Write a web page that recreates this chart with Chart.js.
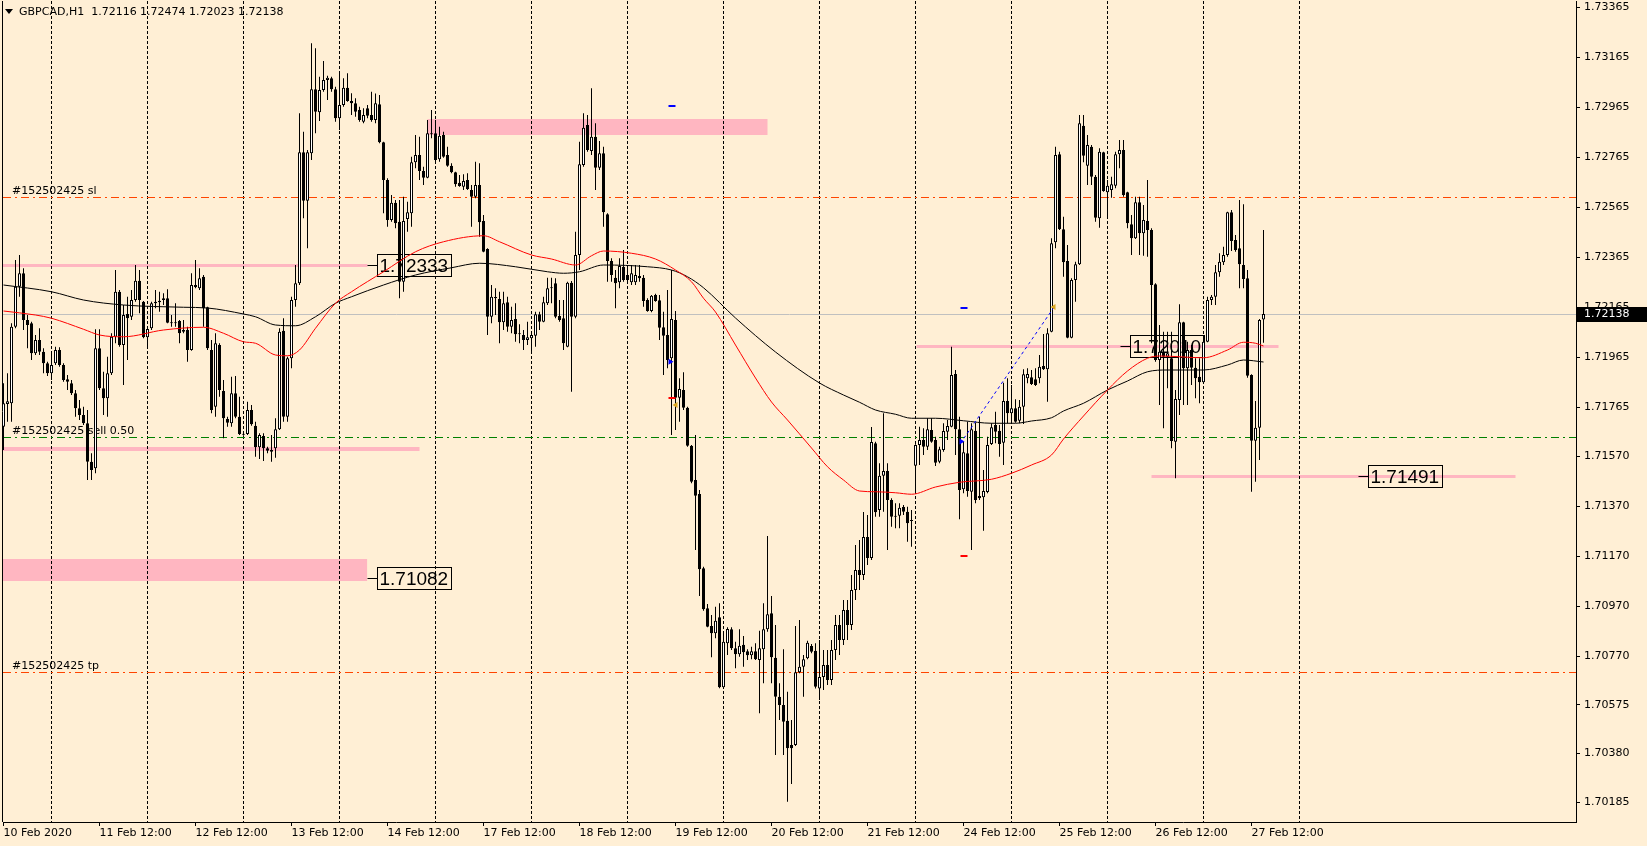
<!DOCTYPE html>
<html>
<head>
<meta charset="utf-8">
<title>GBPCAD,H1</title>
<script src="https://cdn.jsdelivr.net/npm/chart.js@4.4.1/dist/chart.umd.min.js"></script>
<style>
  html, body { margin: 0; padding: 0; background: #FFEFD5; overflow: hidden; }
  canvas { display: block; }
</style>
</head>
<body>
<canvas id="chart" width="1647" height="846"></canvas>
<script>
const symbolTitle = "GBPCAD,H1";

// hourly candles, bar 0 = 10 Feb 12:00
const candleOpen = [
  1.71687, 1.71778, 1.71781, 1.72087, 1.72247, 1.72301, 1.72114, 1.72101, 1.71981, 1.72034,
  1.71987, 1.71941, 1.71901, 1.71941, 1.71994, 1.71934, 1.71877, 1.71861, 1.71821, 1.71761,
  1.71734, 1.71701, 1.71547, 1.71521, 1.72001, 1.71841, 1.71801, 1.71901, 1.72047, 1.72227,
  1.72014, 1.72138, 1.72127, 1.72194, 1.72271, 1.72187, 1.72045, 1.72081, 1.72181, 1.72185,
  1.72194, 1.72201, 1.72103, 1.72103, 1.72110, 1.72074, 1.72074, 1.71994, 1.72254, 1.72241,
  1.72287, 1.72165, 1.71994, 1.71767, 1.72014, 1.71830, 1.71718, 1.71701, 1.71821, 1.71727,
  1.71658, 1.71658, 1.71754, 1.71691, 1.71605, 1.71650, 1.71601, 1.71594, 1.71601, 1.71677,
  1.72071, 1.71727, 1.71961, 1.72194, 1.72261, 1.72785, 1.72591, 1.72781, 1.73037, 1.72945,
  1.73034, 1.73074, 1.73081, 1.73037, 1.72921, 1.72974, 1.73043, 1.72990, 1.72981, 1.72954,
  1.72907, 1.72961, 1.72934, 1.72914, 1.72977, 1.72825, 1.72674, 1.72514, 1.72583, 1.72507,
  1.72267, 1.72518, 1.72541, 1.72745, 1.72774, 1.72710, 1.72683, 1.72861, 1.72861, 1.72757,
  1.72854, 1.72774, 1.72731, 1.72705, 1.72663, 1.72647, 1.72674, 1.72634, 1.72607, 1.72654,
  1.72510, 1.72398, 1.72127, 1.72206, 1.72198, 1.72105, 1.72185, 1.72087, 1.72118, 1.72061,
  1.72054, 1.72034, 1.72041, 1.72051, 1.72137, 1.72107, 1.72181, 1.72241, 1.72261, 1.72130,
  1.72121, 1.72007, 1.72263, 1.72127, 1.72374, 1.72734, 1.72894, 1.72790, 1.72847, 1.72723,
  1.72781, 1.72537, 1.72350, 1.72283, 1.72265, 1.72327, 1.72294, 1.72265, 1.72265, 1.72290,
  1.72283, 1.72194, 1.72150, 1.72214, 1.72193, 1.72085, 1.72054, 1.71961, 1.72114, 1.71803,
  1.71834, 1.71763, 1.71611, 1.71474, 1.71418, 1.71121, 1.70961, 1.70890, 1.70861, 1.70925,
  1.70645, 1.70821, 1.70877, 1.70801, 1.70777, 1.70815, 1.70789, 1.70773, 1.70789, 1.70754,
  1.70797, 1.70877, 1.70941, 1.70763, 1.70607, 1.70574, 1.70511, 1.70414, 1.70414, 1.70705,
  1.70727, 1.70761, 1.70810, 1.70791, 1.70640, 1.70686, 1.70734, 1.70674, 1.70794, 1.70894,
  1.70834, 1.70954, 1.70894, 1.71034, 1.71114, 1.71094, 1.71246, 1.71162, 1.71621, 1.71354,
  1.71491, 1.71510, 1.71394, 1.71331, 1.71331, 1.71366, 1.71347, 1.71314, 1.71531, 1.71614,
  1.71634, 1.71607, 1.71674, 1.71634, 1.71547, 1.71594, 1.71667, 1.71687, 1.71898, 1.71677,
  1.71437, 1.71581, 1.71427, 1.71671, 1.71410, 1.71405, 1.71426, 1.71618, 1.71694, 1.71671,
  1.71623, 1.71790, 1.71741, 1.71761, 1.71711, 1.71767, 1.71881, 1.71885, 1.71877, 1.71881,
  1.71930, 1.71917, 1.72067, 1.72425, 1.72777, 1.72477, 1.72350, 1.72043, 1.72274, 1.72337,
  1.72891, 1.72731, 1.72807, 1.72687, 1.72521, 1.72785, 1.72625, 1.72634, 1.72651, 1.72777,
  1.72794, 1.72625, 1.72497, 1.72441, 1.72585, 1.72461, 1.72510, 1.72474, 1.72257, 1.71954,
  1.71987, 1.71967, 1.71961, 1.71627, 1.71794, 1.72105, 1.71921, 1.71994, 1.71923, 1.71887,
  1.71865, 1.72027, 1.72194, 1.72207, 1.72305, 1.72345, 1.72374, 1.72545, 1.72434, 1.72401,
  1.72334, 1.72281, 1.71894, 1.71631, 1.71683, 1.72116
];
const candleHigh = [
  1.71861, 1.71901, 1.72101, 1.72354, 1.72374, 1.72321, 1.72134, 1.72107, 1.72054, 1.72081,
  1.72001, 1.71947, 1.71981, 1.72007, 1.72005, 1.71941, 1.71894, 1.71874, 1.71834, 1.71794,
  1.71767, 1.71754, 1.71581, 1.72077, 1.72077, 1.71907, 1.71967, 1.72061, 1.72314, 1.72234,
  1.72174, 1.72207, 1.72234, 1.72334, 1.72314, 1.72190, 1.72087, 1.72187, 1.72234, 1.72227,
  1.72221, 1.72237, 1.72134, 1.72181, 1.72114, 1.72114, 1.72087, 1.72301, 1.72354, 1.72321,
  1.72294, 1.72167, 1.72034, 1.72061, 1.72021, 1.71874, 1.71727, 1.71887, 1.71890, 1.71807,
  1.71670, 1.71787, 1.71774, 1.71707, 1.71661, 1.71661, 1.71607, 1.71654, 1.71721, 1.72081,
  1.72121, 1.71967, 1.72207, 1.72334, 1.72941, 1.72867, 1.72794, 1.73221, 1.73201, 1.73087,
  1.73150, 1.73091, 1.73087, 1.73047, 1.73101, 1.73081, 1.73101, 1.73021, 1.73001, 1.72967,
  1.72961, 1.72974, 1.73027, 1.73020, 1.73014, 1.72827, 1.72681, 1.72614, 1.72594, 1.72594,
  1.72607, 1.72587, 1.72767, 1.72854, 1.72847, 1.72727, 1.72914, 1.72954, 1.72914, 1.72887,
  1.72867, 1.72807, 1.72741, 1.72707, 1.72694, 1.72697, 1.72701, 1.72654, 1.72747, 1.72741,
  1.72534, 1.72401, 1.72254, 1.72241, 1.72227, 1.72227, 1.72207, 1.72167, 1.72181, 1.72097,
  1.72074, 1.72107, 1.72067, 1.72147, 1.72147, 1.72207, 1.72283, 1.72283, 1.72281, 1.72194,
  1.72194, 1.72267, 1.72270, 1.72467, 1.72827, 1.72941, 1.72934, 1.73041, 1.72901, 1.72830,
  1.72807, 1.72541, 1.72361, 1.72314, 1.72361, 1.72394, 1.72334, 1.72334, 1.72334, 1.72334,
  1.72294, 1.72201, 1.72214, 1.72219, 1.72214, 1.72147, 1.72234, 1.72314, 1.72150, 1.71881,
  1.71905, 1.71767, 1.71614, 1.71654, 1.71434, 1.71127, 1.70978, 1.70934, 1.70967, 1.70981,
  1.70861, 1.70885, 1.70885, 1.70827, 1.70877, 1.70850, 1.70797, 1.70807, 1.70821, 1.70871,
  1.70981, 1.71250, 1.71010, 1.70894, 1.70661, 1.70797, 1.70627, 1.70514, 1.70890, 1.70914,
  1.70774, 1.70831, 1.70818, 1.70821, 1.70834, 1.70794, 1.70794, 1.70834, 1.70934, 1.70934,
  1.70994, 1.70994, 1.71094, 1.71214, 1.71234, 1.71346, 1.71334, 1.71686, 1.71627, 1.71541,
  1.71741, 1.71541, 1.71401, 1.71381, 1.71381, 1.71374, 1.71367, 1.71354, 1.71617, 1.71687,
  1.71681, 1.71721, 1.71721, 1.71647, 1.71607, 1.71701, 1.71714, 1.72007, 1.71914, 1.71727,
  1.71627, 1.71707, 1.71701, 1.71703, 1.71727, 1.71514, 1.71647, 1.71701, 1.71747, 1.71694,
  1.71863, 1.71881, 1.71854, 1.71797, 1.71794, 1.71917, 1.71921, 1.71914, 1.71921, 1.71974,
  1.72058, 1.72081, 1.72441, 1.72807, 1.72787, 1.72527, 1.72414, 1.72281, 1.72347, 1.72934,
  1.72934, 1.72854, 1.72814, 1.72694, 1.72801, 1.72787, 1.72674, 1.72687, 1.72787, 1.72834,
  1.72834, 1.72627, 1.72534, 1.72607, 1.72607, 1.72574, 1.72674, 1.72481, 1.72261, 1.72094,
  1.72067, 1.72067, 1.72067, 1.71834, 1.72177, 1.72107, 1.72027, 1.72014, 1.71961, 1.71961,
  1.72041, 1.72207, 1.72214, 1.72334, 1.72381, 1.72407, 1.72547, 1.72554, 1.72454, 1.72594,
  1.72577, 1.72314, 1.71897, 1.71790, 1.72118, 1.72474
];
const candleLow = [
  1.71594, 1.71707, 1.71707, 1.72081, 1.72207, 1.72074, 1.72001, 1.71954, 1.71974, 1.71974,
  1.71901, 1.71890, 1.71874, 1.71934, 1.71927, 1.71867, 1.71834, 1.71814, 1.71727, 1.71714,
  1.71694, 1.71474, 1.71474, 1.71501, 1.71834, 1.71734, 1.71727, 1.71894, 1.72021, 1.72007,
  1.71854, 1.71954, 1.72114, 1.72187, 1.72141, 1.72041, 1.72007, 1.72074, 1.72161, 1.72147,
  1.72174, 1.72101, 1.72087, 1.72087, 1.72021, 1.72061, 1.71947, 1.71991, 1.72241, 1.72234,
  1.72087, 1.71994, 1.71741, 1.71727, 1.71807, 1.71641, 1.71687, 1.71687, 1.71721, 1.71654,
  1.71651, 1.71654, 1.71691, 1.71567, 1.71558, 1.71550, 1.71581, 1.71547, 1.71563, 1.71674,
  1.71707, 1.71707, 1.71921, 1.72167, 1.72254, 1.72521, 1.72401, 1.72754, 1.72861, 1.72910,
  1.73027, 1.72994, 1.73027, 1.72907, 1.72874, 1.72967, 1.72987, 1.72934, 1.72927, 1.72907,
  1.72901, 1.72921, 1.72907, 1.72901, 1.72821, 1.72541, 1.72487, 1.72507, 1.72481, 1.72201,
  1.72227, 1.72467, 1.72487, 1.72721, 1.72674, 1.72654, 1.72681, 1.72841, 1.72747, 1.72747,
  1.72763, 1.72727, 1.72701, 1.72647, 1.72647, 1.72634, 1.72634, 1.72487, 1.72601, 1.72447,
  1.72385, 1.72054, 1.72101, 1.72134, 1.72021, 1.72074, 1.72067, 1.72061, 1.72027, 1.72021,
  1.71994, 1.72014, 1.71987, 1.72007, 1.72074, 1.72105, 1.72174, 1.72181, 1.72121, 1.72107,
  1.71994, 1.72005, 1.71827, 1.72121, 1.72314, 1.72727, 1.72787, 1.72774, 1.72634, 1.72714,
  1.72487, 1.72267, 1.72267, 1.72161, 1.72241, 1.72267, 1.72267, 1.72254, 1.72254, 1.72267,
  1.72167, 1.72147, 1.72145, 1.72187, 1.72034, 1.71894, 1.71921, 1.71654, 1.71674, 1.71707,
  1.71754, 1.71607, 1.71461, 1.71194, 1.71010, 1.70951, 1.70885, 1.70765, 1.70841, 1.70641,
  1.70641, 1.70774, 1.70794, 1.70721, 1.70767, 1.70727, 1.70754, 1.70757, 1.70754, 1.70541,
  1.70661, 1.70867, 1.70661, 1.70374, 1.70514, 1.70374, 1.70187, 1.70258, 1.70410, 1.70701,
  1.70607, 1.70757, 1.70781, 1.70640, 1.70594, 1.70634, 1.70654, 1.70654, 1.70754, 1.70774,
  1.70814, 1.70834, 1.70874, 1.70994, 1.71034, 1.71074, 1.71134, 1.71154, 1.71327, 1.71327,
  1.71347, 1.71194, 1.71287, 1.71281, 1.71281, 1.71334, 1.71227, 1.71207, 1.71427, 1.71534,
  1.71574, 1.71594, 1.71623, 1.71530, 1.71541, 1.71587, 1.71634, 1.71685, 1.71574, 1.71317,
  1.71421, 1.71407, 1.71194, 1.71381, 1.71394, 1.71271, 1.71421, 1.71614, 1.71621, 1.71567,
  1.71534, 1.71701, 1.71701, 1.71703, 1.71701, 1.71698, 1.71861, 1.71854, 1.71850, 1.71861,
  1.71914, 1.71787, 1.72065, 1.72401, 1.72474, 1.72287, 1.72041, 1.72041, 1.72187, 1.72334,
  1.72745, 1.72654, 1.72654, 1.72507, 1.72483, 1.72627, 1.72521, 1.72603, 1.72641, 1.72721,
  1.72607, 1.72481, 1.72374, 1.72438, 1.72374, 1.72371, 1.72367, 1.72021, 1.71947, 1.71774,
  1.71681, 1.71841, 1.71601, 1.71481, 1.71734, 1.71774, 1.71774, 1.71854, 1.71801, 1.71781,
  1.71861, 1.72025, 1.72174, 1.72174, 1.72287, 1.72334, 1.72367, 1.72390, 1.72387, 1.72241,
  1.72241, 1.71883, 1.71427, 1.71467, 1.71554, 1.72023
];
const candleClose = [
  1.71781, 1.71789, 1.72087, 1.72247, 1.72301, 1.72114, 1.72094, 1.71981, 1.72034, 1.71987,
  1.71941, 1.71901, 1.71934, 1.71994, 1.71934, 1.71874, 1.71867, 1.71821, 1.71761, 1.71734,
  1.71701, 1.71547, 1.71514, 1.72001, 1.71841, 1.71801, 1.71901, 1.72047, 1.72227, 1.72014,
  1.72134, 1.72121, 1.72194, 1.72271, 1.72194, 1.72045, 1.72078, 1.72181, 1.72187, 1.72191,
  1.72201, 1.72103, 1.72101, 1.72101, 1.72061, 1.72067, 1.71994, 1.72254, 1.72245, 1.72281,
  1.72161, 1.72001, 1.71754, 1.72021, 1.71834, 1.71721, 1.71703, 1.71821, 1.71727, 1.71658,
  1.71655, 1.71754, 1.71697, 1.71605, 1.71654, 1.71601, 1.71591, 1.71587, 1.71677, 1.72067,
  1.71727, 1.71961, 1.72194, 1.72261, 1.72785, 1.72591, 1.72785, 1.73037, 1.72947, 1.73034,
  1.73074, 1.73083, 1.73037, 1.72921, 1.72974, 1.73043, 1.72990, 1.72981, 1.72947, 1.72914,
  1.72934, 1.72931, 1.72914, 1.72981, 1.72825, 1.72674, 1.72514, 1.72583, 1.72501, 1.72267,
  1.72510, 1.72545, 1.72745, 1.72774, 1.72710, 1.72683, 1.72861, 1.72857, 1.72754, 1.72851,
  1.72767, 1.72731, 1.72705, 1.72657, 1.72650, 1.72670, 1.72638, 1.72607, 1.72654, 1.72505,
  1.72387, 1.72127, 1.72207, 1.72201, 1.72105, 1.72181, 1.72087, 1.72114, 1.72057, 1.72057,
  1.72034, 1.72045, 1.72054, 1.72137, 1.72107, 1.72185, 1.72241, 1.72243, 1.72127, 1.72114,
  1.72021, 1.72263, 1.72127, 1.72374, 1.72737, 1.72883, 1.72794, 1.72847, 1.72723, 1.72781,
  1.72545, 1.72350, 1.72294, 1.72261, 1.72330, 1.72274, 1.72274, 1.72301, 1.72294, 1.72281,
  1.72190, 1.72150, 1.72211, 1.72190, 1.72083, 1.72051, 1.71954, 1.72118, 1.71803, 1.71838,
  1.71763, 1.71611, 1.71467, 1.71411, 1.71117, 1.70957, 1.70887, 1.70861, 1.70911, 1.70645,
  1.70827, 1.70878, 1.70801, 1.70777, 1.70811, 1.70785, 1.70773, 1.70789, 1.70757, 1.70801,
  1.70877, 1.70937, 1.70765, 1.70607, 1.70574, 1.70507, 1.70401, 1.70401, 1.70705, 1.70727,
  1.70757, 1.70823, 1.70787, 1.70647, 1.70686, 1.70734, 1.70674, 1.70794, 1.70894, 1.70834,
  1.70954, 1.70894, 1.71034, 1.71114, 1.71094, 1.71246, 1.71162, 1.71626, 1.71345, 1.71491,
  1.71510, 1.71394, 1.71327, 1.71327, 1.71363, 1.71347, 1.71301, 1.71310, 1.71614, 1.71634,
  1.71607, 1.71677, 1.71627, 1.71543, 1.71597, 1.71670, 1.71690, 1.71894, 1.71677, 1.71434,
  1.71585, 1.71430, 1.71677, 1.71394, 1.71401, 1.71430, 1.71614, 1.71685, 1.71667, 1.71618,
  1.71790, 1.71741, 1.71761, 1.71707, 1.71767, 1.71897, 1.71898, 1.71858, 1.71854, 1.71927,
  1.71917, 1.72061, 1.72421, 1.72774, 1.72477, 1.72345, 1.72043, 1.72274, 1.72337, 1.72901,
  1.72771, 1.72814, 1.72687, 1.72523, 1.72787, 1.72630, 1.72651, 1.72657, 1.72777, 1.72794,
  1.72614, 1.72501, 1.72441, 1.72585, 1.72461, 1.72514, 1.72474, 1.72254, 1.71954, 1.71987,
  1.71967, 1.71981, 1.71630, 1.71798, 1.72105, 1.71921, 1.71994, 1.71923, 1.71881, 1.71865,
  1.72027, 1.72194, 1.72207, 1.72305, 1.72347, 1.72374, 1.72545, 1.72430, 1.72394, 1.72337,
  1.72278, 1.71891, 1.71631, 1.71683, 1.72114, 1.72138
];

// moving averages, read at sampled bars
const maRedBars = [0, 8, 12, 20, 24, 30, 40, 50, 55, 60, 63, 68, 71, 74, 78, 83, 87, 95, 103, 110,
  120, 124, 132, 137, 143, 147, 150, 157, 163, 168, 172, 175, 178, 183, 188, 192, 196, 202, 206, 210,
  214, 218, 223, 227, 233, 239, 247, 252, 257, 262, 265, 270, 276, 281, 286, 289, 300, 306, 310, 313, 315];
const maRedValues = [1.72150, 1.72134, 1.72121, 1.72077, 1.72054, 1.72047, 1.72074, 1.72085, 1.72061, 1.72027,
  1.72021, 1.71974, 1.71971, 1.71994, 1.72081, 1.72181, 1.72227, 1.72307, 1.72387, 1.72427,
  1.72451, 1.72427, 1.72374, 1.72358, 1.72334, 1.72371, 1.72390, 1.72381, 1.72358, 1.72314,
  1.72267, 1.72201, 1.72146, 1.72014, 1.71882, 1.71786, 1.71714, 1.71602, 1.71527, 1.71474,
  1.71430, 1.71427, 1.71423, 1.71417, 1.71446, 1.71465, 1.71477, 1.71501, 1.71534, 1.71574,
  1.71638, 1.71730, 1.71834, 1.71910, 1.71961, 1.71970, 1.71963, 1.71994, 1.72025, 1.72021, 1.72010];
const maBlackBars = [0, 12, 20, 30, 45, 51, 60, 63, 68, 73, 78, 83, 87, 95, 103, 112, 119, 128, 136, 140,
  144, 150, 161, 167, 171, 175, 183, 193, 204, 210, 214, 218, 223, 227, 233, 240, 247, 253, 257, 262,
  265, 270, 276, 281, 286, 291, 300, 306, 310, 315];
const maBlackValues = [1.72254, 1.72227, 1.72194, 1.72174, 1.72165, 1.72162, 1.72138, 1.72127, 1.72094, 1.72091,
  1.72127, 1.72181, 1.72207, 1.72254, 1.72294, 1.72323, 1.72341, 1.72327, 1.72307, 1.72301,
  1.72307, 1.72334, 1.72327, 1.72314, 1.72287, 1.72243, 1.72122, 1.71986, 1.71862, 1.71814,
  1.71785, 1.71754, 1.71737, 1.71721, 1.71721, 1.71711, 1.71701, 1.71701, 1.71710, 1.71723,
  1.71750, 1.71781, 1.71834, 1.71870, 1.71907, 1.71914, 1.71914, 1.71934, 1.71954, 1.71946];

// axes
const timeLabels = ["10 Feb 2020", "11 Feb 12:00", "12 Feb 12:00", "13 Feb 12:00", "14 Feb 12:00",
  "17 Feb 12:00", "18 Feb 12:00", "19 Feb 12:00", "20 Feb 12:00", "21 Feb 12:00",
  "24 Feb 12:00", "25 Feb 12:00", "26 Feb 12:00", "27 Feb 12:00"];
const timeLabelBars = [0, 24, 48, 72, 96, 120, 144, 168, 192, 216, 240, 264, 288, 312];
const gridBars = [12, 36, 60, 84, 108, 132, 156, 180, 204, 228, 252, 276, 300, 324];
const priceTicks = [1.73365, 1.73165, 1.72965, 1.72765, 1.72565, 1.72365, 1.72165, 1.71965, 1.71765,
  1.71570, 1.71370, 1.71170, 1.70970, 1.70770, 1.70575, 1.70380, 1.70185];

// order levels
const levelNames = ["#152502425 sl", "#152502425 sell 0.50", "#152502425 tp"];
const levelPrices = [1.72604, 1.71645, 1.70705];

// drawn objects: [fromBar, toBar, price(s)]
const zoneRects = [[106, 191, 1.72854, 1.72918], [-1, 90.9, 1.71070, 1.71158]];
const pinkLevels = [[-1, 91, 1.72333], [-1, 104, 1.71597], [228.25, 318.75, 1.72010], [287, 378, 1.71491]];
const priceTags = [[91, 1.72333], [91, 1.71082], [279.25, 1.72010], [338.75, 1.71491]];

// trade marks
const tradeLine = [[239.25, 1.71621], [263, 1.72174]];
const stopMarks = [[166.25, 168, 1.71801], [239.25, 241, 1.71171]];
const targetMarks = [[166.25, 168, 1.72969], [239.25, 241, 1.72161]];
const entryArrows = [[166.75, 1.71947], [239.5, 1.71628]];
const exitArrows = [[168, 1.71774], [262.5, 1.72166]];

const PINK = "#FFB6C1";
const levelColors = ["#FF4500", "#008000", "#FF4500"];
const pinkWidths = [3, 4, 3, 3];
const FONT = '"DejaVu Sans"';

const bars = candleClose.map((_, i) => i);
const lastBar = bars.length - 1;

const objectsPlugin = {
    id: "mtObjects",
    beforeDatasetsDraw(chart) {
        const { ctx, chartArea: a, scales: { x, y } } = chart;
        const yy = p => Math.round(y.getPixelForValue(p)) + 0.5;
        ctx.save();
        ctx.beginPath();
        ctx.rect(a.left, a.top, a.right - a.left, a.bottom - a.top);
        ctx.clip();

        ctx.fillStyle = PINK;
        zoneRects.forEach(([b0, b1, lo, hi]) => {
            const x0 = x.getPixelForValue(b0), x1 = x.getPixelForValue(b1);
            const y0 = Math.round(y.getPixelForValue(hi)), y1 = Math.round(y.getPixelForValue(lo));
            ctx.fillRect(x0, y0, x1 - x0, y1 - y0);
        });

        ctx.strokeStyle = PINK;
        pinkLevels.forEach(([b0, b1, p], k) => {
            const w = pinkWidths[k];
            const py = Math.round(y.getPixelForValue(p)) + (w % 2 ? 0.5 : 0);
            ctx.lineWidth = w;
            ctx.beginPath();
            ctx.moveTo(x.getPixelForValue(b0), py);
            ctx.lineTo(x.getPixelForValue(b1), py);
            ctx.stroke();
        });

        // day separators
        ctx.strokeStyle = "#000";
        ctx.lineWidth = 1;
        ctx.setLineDash([3, 2]);
        gridBars.forEach(b => {
            const px = Math.floor(x.getPixelForValue(b)) + 0.5;
            ctx.beginPath();
            ctx.moveTo(px, a.top);
            ctx.lineTo(px, a.bottom);
            ctx.stroke();
        });
        ctx.setLineDash([]);

        // bid line
        ctx.strokeStyle = "#C0C0C0";
        ctx.beginPath();
        ctx.moveTo(a.left, yy(candleClose[lastBar]));
        ctx.lineTo(a.right, yy(candleClose[lastBar]));
        ctx.stroke();

        ctx.font = "11px " + FONT;
        levelPrices.forEach((p, k) => {
            const py = yy(p);
            ctx.strokeStyle = levelColors[k];
            ctx.setLineDash([8, 4, 2, 4]);
            ctx.beginPath();
            ctx.moveTo(a.left, py);
            ctx.lineTo(a.right, py);
            ctx.stroke();
            ctx.setLineDash([]);
            ctx.fillStyle = "#000";
            ctx.textBaseline = "alphabetic";
            ctx.fillText(levelNames[k], 12, py - 3.5);
        });

        ctx.font = '19px "Liberation Sans"';
        ctx.strokeStyle = "#000";
        ctx.fillStyle = "#000";
        priceTags.forEach(([b, p]) => {
            const px = Math.floor(x.getPixelForValue(b)) + 0.5;
            const py = yy(p);
            ctx.beginPath();
            ctx.moveTo(px, py);
            ctx.lineTo(px + 10, py);
            ctx.stroke();
            ctx.strokeRect(px + 10, py - 11, 74, 22);
            ctx.textBaseline = "middle";
            ctx.fillText(p.toFixed(5), px + 12, py + 1);
        });
        ctx.restore();
    },
    afterDatasetsDraw(chart) {
        const { ctx, chartArea: a, scales: { x, y } } = chart;
        ctx.save();
        ctx.beginPath();
        ctx.rect(a.left, a.top, a.right - a.left, a.bottom - a.top);
        ctx.clip();

        ctx.strokeStyle = "#0000FF";
        ctx.lineWidth = 1;
        ctx.setLineDash([3, 3]);
        ctx.beginPath();
        ctx.moveTo(x.getPixelForValue(tradeLine[0][0]), y.getPixelForValue(tradeLine[0][1]));
        ctx.lineTo(x.getPixelForValue(tradeLine[1][0]), y.getPixelForValue(tradeLine[1][1]));
        ctx.stroke();
        ctx.setLineDash([]);

        ctx.lineWidth = 2;
        const dash = (marks, color) => {
            ctx.strokeStyle = color;
            marks.forEach(([b0, b1, p]) => {
                const py = Math.round(y.getPixelForValue(p));
                ctx.beginPath();
                ctx.moveTo(x.getPixelForValue(b0), py);
                ctx.lineTo(x.getPixelForValue(b1), py);
                ctx.stroke();
            });
        };
        dash(stopMarks, "#FF0000");
        dash(targetMarks, "#0000FF");

        ctx.fillStyle = "#0000FF";
        entryArrows.forEach(([b, p]) => {
            const px = x.getPixelForValue(b), py = y.getPixelForValue(p);
            ctx.beginPath();
            ctx.moveTo(px - 2, py - 3);
            ctx.lineTo(px + 3, py);
            ctx.lineTo(px - 2, py + 3);
            ctx.closePath();
            ctx.fill();
        });
        ctx.fillStyle = "#DAA520";
        exitArrows.forEach(([b, p]) => {
            const px = x.getPixelForValue(b), py = y.getPixelForValue(p);
            ctx.beginPath();
            ctx.moveTo(px + 2, py - 3);
            ctx.lineTo(px - 3, py);
            ctx.lineTo(px + 2, py + 3);
            ctx.closePath();
            ctx.fill();
        });
        ctx.restore();
    },
    afterDraw(chart) {
        const { ctx, chartArea: a, scales: { y } } = chart;
        ctx.save();
        ctx.strokeStyle = "#000";
        ctx.lineWidth = 1;
        ctx.beginPath();
        ctx.moveTo(a.left - 0.5, a.top);
        ctx.lineTo(a.left - 0.5, a.bottom);
        ctx.stroke();

        // header
        ctx.fillStyle = "#000";
        ctx.beginPath();
        ctx.moveTo(5, 9);
        ctx.lineTo(13, 9);
        ctx.lineTo(9, 14);
        ctx.closePath();
        ctx.fill();
        ctx.font = "11px " + FONT;
        ctx.textBaseline = "middle";
        const hdr = symbolTitle + "  " + [candleOpen[lastBar], candleHigh[lastBar], candleLow[lastBar], candleClose[lastBar]]
            .map(v => v.toFixed(5)).join(" ");
        ctx.fillText(hdr, 19, 12);

        // bid box on price scale
        const py = Math.round(y.getPixelForValue(candleClose[lastBar]));
        ctx.fillRect(a.right, py - 7, chart.width - a.right, 15);
        ctx.fillStyle = "#FFFFFF";
        ctx.fillText(candleClose[lastBar].toFixed(5), a.right + 8, py + 0.5);
        ctx.restore();
    }
};

function initChart() {
    const ctx = document.getElementById("chart");

    const wickData = bars.map(i => ({ x: i, y: [candleLow[i], candleHigh[i]] }));
    const bodyData = bars.map(i => ({ x: i, y: [candleOpen[i], candleClose[i]] }));
    const bodyFill = bars.map(i => (candleClose[i] >= candleOpen[i] ? "#FFFFFF" : "#000000"));

    new Chart(ctx, {
        type: "bar",
        data: {
            datasets: [
                {
                    type: "line",
                    label: "MA fast",
                    data: maRedBars.map((b, k) => ({ x: b, y: maRedValues[k] })),
                    borderColor: "#FF0000",
                    borderWidth: 1,
                    pointRadius: 0,
                    cubicInterpolationMode: "monotone",
                    order: 0,
                },
                {
                    type: "line",
                    label: "MA slow",
                    data: maBlackBars.map((b, k) => ({ x: b, y: maBlackValues[k] })),
                    borderColor: "#000000",
                    borderWidth: 1,
                    pointRadius: 0,
                    cubicInterpolationMode: "monotone",
                    order: 0,
                },
                {
                    label: "bodies",
                    data: bodyData,
                    backgroundColor: bodyFill,
                    borderColor: "#000000",
                    borderWidth: 1,
                    borderSkipped: false,
                    barThickness: 3,
                    minBarLength: 1,
                    grouped: false,
                    inflateAmount: 0,
                    order: 1,
                },
                {
                    label: "wicks",
                    data: wickData,
                    backgroundColor: "#000000",
                    barThickness: 1,
                    grouped: false,
                    inflateAmount: 0,
                    order: 2,
                },
            ],
        },
        options: {
            responsive: false,
            animation: false,
            devicePixelRatio: 1,
            events: [],
            layout: { padding: { left: 3, top: 1, right: 0, bottom: 0 } },
            plugins: {
                legend: { display: false },
                tooltip: { enabled: false },
            },
            scales: {
                x: {
                    type: "linear",
                    offset: false,
                    min: -0.125,
                    max: 393.125,
                    grid: { display: true, offset: false, drawOnChartArea: false, drawTicks: true, tickLength: 4, color: "#000" },
                    border: { display: true, color: "#000", width: 1 },
                    afterBuildTicks: s => { s.ticks = timeLabelBars.map(v => ({ value: v })); },
                    afterFit: s => {
                        s.height = 24;
                        s.paddingLeft = 0;
                        s.paddingRight = 0;
                    },
                    ticks: {
                        autoSkip: false,
                        maxRotation: 0,
                        minRotation: 0,
                        align: "start",
                        padding: 1,
                        color: "#000",
                        font: { family: "DejaVu Sans", size: 11 },
                        callback: (v, i) => timeLabels[i],
                    },
                },
                y: {
                    type: "linear",
                    position: "right",
                    min: 1.70106,
                    max: 1.73390,
                    grid: { drawOnChartArea: false, drawTicks: true, tickLength: 4, color: "#000" },
                    border: { display: true, color: "#000", width: 1 },
                    afterBuildTicks: s => { s.ticks = priceTicks.map(v => ({ value: v })); },
                    afterFit: s => {
                        s.width = 71;
                        s.paddingTop = 0;
                        s.paddingBottom = 0;
                    },
                    ticks: {
                        padding: 4,
                        crossAlign: "near",
                        color: "#000",
                        font: { family: "DejaVu Sans", size: 11 },
                        callback: v => v.toFixed(5),
                    },
                },
            },
        },
        plugins: [objectsPlugin],
    });
}

initChart();
</script>
</body>
</html>
